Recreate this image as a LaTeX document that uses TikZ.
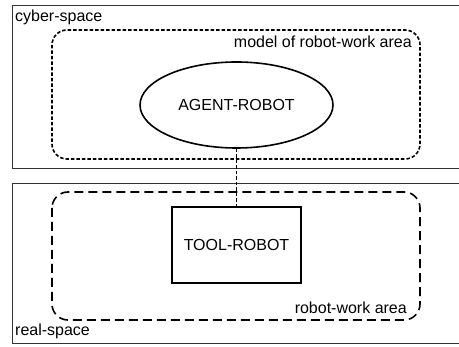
\documentclass[tikz,border=0pt]{standalone}
\usepackage{fontspec}
\setmainfont{Liberation Sans}
\usetikzlibrary{shapes.geometric}

\tikzset{
  spacebox/.style={draw=black!80, line width=0.9pt},
  modelarea/.style={rounded corners=15pt, line width=1.6pt, dash pattern=on 3.5pt off 2pt},
  workarea/.style={rounded corners=16pt, line width=1.6pt, dash pattern=on 9pt off 5pt},
  agentnode/.style={ellipse, draw, line width=1.6pt, inner sep=0pt, minimum width=193pt, minimum height=86pt},
  toolnode/.style={rectangle, draw, line width=1.6pt, inner sep=0pt, minimum width=129pt, minimum height=76pt},
  link/.style={line width=1.8pt, dash pattern=on 3.5pt off 2pt}
}

\begin{document}
\begin{tikzpicture}[x=1pt,y=-1pt,font=\fontsize{16}{19}\selectfont]
 	\useasboundingbox (0,0) rectangle (459,347);
 	\clip (0,0) rectangle (459,347);
 	%cyber-space
 	\draw[spacebox] (12,5) rectangle (470,168);
 	\node[anchor=base west, inner sep=0pt] (cyber) at (15,22) {cyber-space};
 	\draw[modelarea] (52,30) rectangle (420,159);
 	\node[anchor=base east, inner sep=0pt] (model) at (412,48) {model of robot-work area};
 	\node[agentnode] (agent) at (236.5,105) {AGENT-ROBOT};
 	%real-space
 	\draw[spacebox] (12,183) rectangle (470,343);
 	\node[anchor=base west, inner sep=0pt] (real) at (15,336) {real-space};
 	\draw[workarea] (52,192) rectangle (420,320);
 	\node[anchor=base east, inner sep=0pt] (work) at (407,314) {robot-work area};
 	\node[toolnode] (tool) at (236.5,245) {TOOL-ROBOT};
 	%agent controls tool
 	\draw[link] (agent.south) -- (tool.north);
\end{tikzpicture}
\end{document}
